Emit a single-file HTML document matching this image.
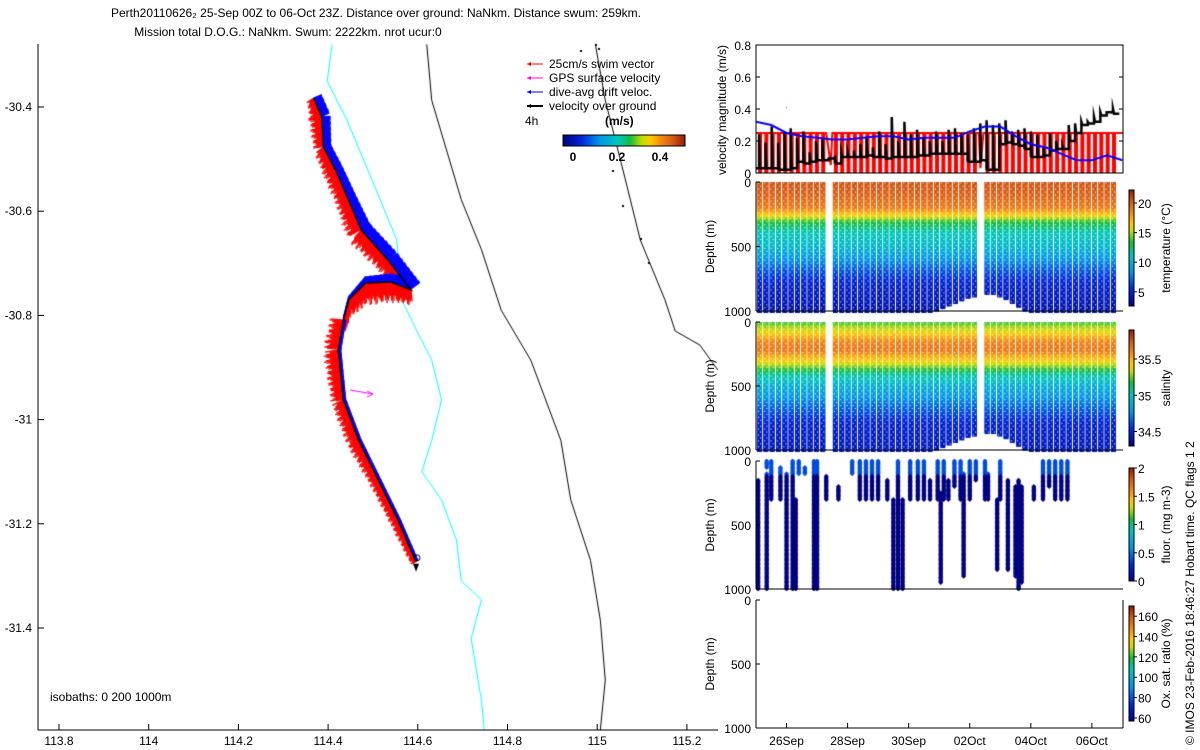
<!DOCTYPE html>
<html><head><meta charset="utf-8"><style>
body{margin:0;background:#fff;width:1200px;height:750px;overflow:hidden;position:relative;font-family:"Liberation Sans",sans-serif}
canvas,svg{position:absolute;left:0;top:0}
svg text{font-family:"Liberation Sans",sans-serif;font-size:12px;fill:#000}
</style></head><body>
<canvas id="cv" width="1200" height="750"></canvas>
<svg id="sv" width="1200" height="750"></svg>
<script>
// ---------- DATA ----------
const mapXTicks=[113.8,114,114.2,114.4,114.6,114.8,115,115.2];
const mapYTicks=[-30.4,-30.6,-30.8,-31,-31.2,-31.4];
const isoCyanLon=[114.409,114.398,114.442,114.498,114.553,114.564,114.598,114.631,114.653,114.631,114.609,114.653,114.686,114.697,114.742,114.719,114.742,114.748];
const isoCyanLat=[-30.28,-30.35,-30.425,-30.54,-30.655,-30.77,-30.83,-30.886,-30.962,-31.04,-31.10,-31.154,-31.23,-31.31,-31.346,-31.42,-31.54,-31.596];
const isoBlackLon=[114.62,114.631,114.697,114.742,114.786,114.852,114.919,114.941,114.985,115.007,115.018,115.007];
const isoBlackLat=[-30.28,-30.387,-30.578,-30.674,-30.79,-30.886,-31.04,-31.154,-31.27,-31.385,-31.5,-31.596];
const coastLon=[114.996,115.018,115.063,115.096,115.151,115.174,115.229,115.269];
const coastLat=[-30.28,-30.387,-30.54,-30.655,-30.77,-30.83,-30.857,-30.905];
const trackLon=[114.368,114.386,114.39,114.417,114.446,114.474,114.534,114.585,114.541,114.483,114.446,114.434,114.423,114.434,114.468,114.512,114.556,114.596];
const trackLat=[-30.383,-30.419,-30.477,-30.521,-30.579,-30.636,-30.694,-30.751,-30.736,-30.738,-30.770,-30.809,-30.866,-30.962,-31.039,-31.116,-31.193,-31.273];
const blueWidth=[9,9,8,8,9,11,12,12,9,7,4,3,3,3,3,3,3,3];
const redWidth=[9,15,12,15,15,18,15,15,20,22,18,15,17,14,14,11,10,7];

const dateLabels=["26Sep","28Sep","30Sep","02Oct","04Oct","06Oct"];
const dateDays=[1,3,5,7,9,11];
const blueDay=[0,0.5,1,1.5,2,2.5,3,3.5,4,4.5,5,5.5,6,6.5,7,7.5,8,8.5,9,9.5,10,10.5,11,11.5,12];
const blueVel=[0.32,0.30,0.25,0.23,0.22,0.21,0.21,0.22,0.23,0.23,0.21,0.22,0.22,0.22,0.26,0.29,0.29,0.23,0.18,0.16,0.12,0.08,0.08,0.11,0.08];
const vog=[0.03,0.03,0.03,0.02,0.02,0.03,0.07,0.06,0.07,0.08,0.08,0.09,0.06,0.1,0.1,0.1,0.1,0.11,0.1,0.1,0.09,0.1,0.1,0.1,0.1,0.11,0.11,0.12,0.12,0.12,0.12,0.12,0.12,0.07,0.07,0.08,0.02,0.02,0.18,0.19,0.18,0.17,0.15,0.1,0.1,0.11,0.14,0.15,0.15,0.2,0.25,0.3,0.31,0.32,0.36,0.38,0.37];
const spike=[0.24,0.19,0.29,0.19,0.26,0.28,0.22,0.26,0.13,0.2,0.21,0.09,0.11,0.13,0.13,0.14,0.18,0.22,0.16,0.26,0.18,0.35,0.2,0.32,0.24,0.27,0.22,0.2,0.26,0.2,0.27,0.28,0.25,0.24,0.28,0.31,0.33,0.3,0.31,0.33,0.26,0.27,0.28,0.26,0.24,0.16,0.25,0.2,0.17,0.3,0.31,0.32,0.32,0.35,0.38,0.38,0.4];
const swimSpeed=0.25;
const maxDepth=[1000,1000,1000,1000,1000,1000,1000,1000,1000,1000,1000,0,1000,1000,1000,1000,1000,1000,1000,1000,1000,1000,1000,1000,1000,1000,1000,1000,990,970,950,930,910,895,880,0,860,865,880,900,930,960,990,1000,1000,1000,1000,1000,1000,1000,1000,1000,1000,1000,1000,1000,1000];
const profDepth=[0,100,200,250,300,350,400,500,600,700,800,1000];
const profTemp=[20.5,20,19,17,14,12.5,11.5,10.5,8.5,6.5,5,4];
const salDepth=[0,60,150,220,300,400,500,650,800,1000];
const salVal=[35.2,35.35,35.6,35.65,35.45,35.1,34.9,34.7,34.5,34.45];
const fluorDay=[0.07,0.35,0.35,0.5,0.8,1.0,1.0,1.2,1.3,1.4,1.6,1.9,2.0,2.3,2.7,3.15,3.4,3.6,3.8,4.0,4.3,4.5,4.65,4.8,5.05,5.3,5.5,5.7,5.95,6.05,6.15,6.3,6.5,6.7,6.8,7.0,7.2,7.5,7.6,7.9,8.0,8.25,8.5,8.6,8.7,9.1,9.4,9.6,9.8,10.0,10.2];
const fluorTop=[150,0,100,0,50,100,300,0,300,0,50,0,0,120,200,0,0,0,0,0,150,300,0,300,0,0,0,150,0,250,0,150,0,0,100,0,0,0,100,300,0,150,200,150,200,200,0,0,0,0,0];
const fluorBot=[1000,50,1000,300,300,300,1000,1000,1000,100,100,1000,1000,300,300,100,300,300,300,300,300,1000,1000,1000,300,300,300,300,300,950,300,300,200,300,900,300,150,300,300,850,300,850,900,1000,950,300,300,200,300,300,300];

// ---------- SCALES ----------
const mX=lon=>59+(lon-113.8)*448.5, mY=lat=>107+(-30.4-lat)*521;
const RX0=756,RX1=1123,DAYS=12.02;
const tX=d=>RX0+d*(RX1-RX0)/DAYS;
const vY=v=>173-v*160;
const panels=[[182,311],[322,450],[461,589],[600,728]];
const dY=(p,d)=>panels[p][0]+d/1000*(panels[p][1]-panels[p][0]);
const cmapT=[0,0.15,0.3,0.45,0.55,0.65,0.72,0.82,0.9,1];
const cmapC=[[0,0,130],[0,40,220],[0,150,230],[0,200,190],[20,190,60],[200,220,0],[255,200,0],[240,130,20],[215,90,20],[150,30,10]];
function jet(t){t=Math.max(0,Math.min(1,t));for(let i=1;i<cmapT.length;i++){if(t<=cmapT[i]){const f=(t-cmapT[i-1])/(cmapT[i]-cmapT[i-1]);const a=cmapC[i-1],b=cmapC[i];return `rgb(${Math.round(a[0]+f*(b[0]-a[0]))},${Math.round(a[1]+f*(b[1]-a[1]))},${Math.round(a[2]+f*(b[2]-a[2]))})`;}}return 'rgb(150,30,10)';}
function interp(xs,ys,x){for(let i=1;i<xs.length;i++){if(x<=xs[i]){const f=(x-xs[i-1])/(xs[i]-xs[i-1]);return ys[i-1]+f*(ys[i]-ys[i-1]);}}return ys[ys.length-1];}

const cv=document.getElementById('cv'),ctx=cv.getContext('2d');
const sv=document.getElementById('sv'),NS='http://www.w3.org/2000/svg';
function el(tag,at,txt){const e=document.createElementNS(NS,tag);for(const k in at)e.setAttribute(k,at[k]);if(txt!=null)e.textContent=txt;sv.appendChild(e);return e;}
function poly(xs,ys,col,w){ctx.strokeStyle=col;ctx.lineWidth=w;ctx.beginPath();xs.forEach((x,i)=>i?ctx.lineTo(x,ys[i]):ctx.moveTo(x,ys[i]));ctx.stroke();}

// ---------- MAP ----------
poly(isoCyanLon.map(mX),isoCyanLat.map(mY),'#00ffff',1);
poly(isoBlackLon.map(mX),isoBlackLat.map(mY),'#000',1);
poly(coastLon.map(mX),coastLat.map(mY),'#000',1);
ctx.fillStyle='#000';[[595,44],[598,48],[580,50],[622,205],[640,238],[648,262],[612,170]].forEach(p=>ctx.fillRect(p[0],p[1],2,2));
{const px=trackLon.map(mX),py=trackLat.map(mY);let cnt=0;
for(let i=1;i<px.length;i++){const dx=px[i]-px[i-1],dy=py[i]-py[i-1],L=Math.hypot(dx,dy);const nx=-dy/L,ny=dx/L;
 const n=Math.ceil(L*1.5);for(let k=0;k<n;k++){const f=k/n;const x=px[i-1]+dx*f,y=py[i-1]+dy*f;cnt++;
  const jag=0.55+0.45*Math.abs(Math.sin(cnt*1.7)*Math.cos(cnt*0.37));
  const bw=(blueWidth[i-1]+(blueWidth[i]-blueWidth[i-1])*f)*(0.8+0.2*jag), rw=(redWidth[i-1]+(redWidth[i]-redWidth[i-1])*f)*jag;
  let rnx=nx,rny=ny; if(rnx>0||(rny<0&&i<=7)){rnx=-nx;rny=-ny;}
  if(i>=8&&i<=11){rnx=0;rny=1;}
  ctx.lineWidth=1.3;
  ctx.strokeStyle='#ff0000';ctx.beginPath();ctx.moveTo(x,y);ctx.lineTo(x+rnx*rw+1,y+rny*rw+1);ctx.stroke();
  ctx.strokeStyle='#0000ff';ctx.beginPath();ctx.moveTo(x,y);ctx.lineTo(x-rnx*bw,y-rny*bw);ctx.stroke();
 }}
poly(px,py,'#000',1.5);
const ex=px[px.length-1],ey=py[py.length-1];
ctx.lineWidth=1;ctx.beginPath();ctx.arc(ex+1,ey-4,3,0,7);ctx.stroke();
ctx.fillStyle='#000';ctx.beginPath();ctx.moveTo(ex-3,ey+2);ctx.lineTo(ex+3,ey+2);ctx.lineTo(ex,ey+10);ctx.fill();
ctx.strokeStyle='#ff00ff';ctx.lineWidth=1;ctx.beginPath();ctx.moveTo(350,390);ctx.lineTo(373,394);ctx.moveTo(367,391);ctx.lineTo(373,394);ctx.lineTo(367,397);ctx.stroke();}
el('line',{x1:38,y1:44,x2:38,y2:730,stroke:'#000',});
el('line',{x1:38,y1:730,x2:718,y2:730,stroke:'#000',});
mapXTicks.forEach(v=>{const x=mX(v);el('line',{x1:x,y1:730,x2:x,y2:724,stroke:'#000'});const t=el('text',{x:x,y:745,'text-anchor':'middle'},String(v));});
mapYTicks.forEach(v=>{const y=mY(v);el('line',{x1:38,y1:y,x2:44,y2:y,stroke:'#000'});const t=el('text',{x:32,y:y+4,'text-anchor':'end'},String(v));});
el('text',{x:50,y:701,'xml:space':'preserve'},'isobaths: 0   200  1000m');
el('text',{x:376,y:17,'text-anchor':'middle',},'Perth20110626\u2082 25-Sep 00Z to 06-Oct 23Z. Distance over ground: NaNkm. Distance swum: 259km.');
el('text',{x:288,y:36,'text-anchor':'middle',},'Mission total D.O.G.: NaNkm. Swum: 2222km. nrot ucur:0');
[['#ff0000','25cm/s swim vector',68],['#ff00ff','GPS surface velocity',82],['#0000ff','dive-avg drift veloc.',96],['#000','velocity over ground',110]].forEach(r=>{
 el('line',{x1:527,y1:r[2]-4,x2:543,y2:r[2]-4,stroke:r[0],'stroke-width':r[0]=='#000'?2:1});
 el('path',{d:`M527 ${r[2]-4} l4 -2 v4z`,fill:r[0]});
 const t=el('text',{x:549,y:r[2]},r[1]);});
el('text',{x:525,y:125,},'4h');
el('text',{x:605,y:125,'font-weight':'bold',},'(m/s)');
for(let i=0;i<122;i++){ctx.fillStyle=jet(i/121);ctx.fillRect(563+i,135,1,11);}
el('rect',{x:563,y:135,width:122,height:11,fill:'none',stroke:'#000',});
[[0,573],[0.2,617],[0.4,660]].forEach(p=>el('text',{x:p[1],y:161,'text-anchor':'middle','font-weight':'bold'},String(p[0])));

// ---------- VELOCITY PANEL ----------
ctx.save();ctx.beginPath();ctx.rect(RX0,45,RX1-RX0,128);ctx.clip();
maxDepth.forEach((m,i)=>{const x=tX(0.1+i*0.207);if(m>0){ctx.fillStyle='#ff0000';ctx.fillRect(x-1,vY(swimSpeed),4,vY(0)-vY(swimSpeed));}});
ctx.strokeStyle='#ff0000';ctx.lineWidth=2;
ctx.beginPath();ctx.moveTo(tX(0),vY(swimSpeed));ctx.lineTo(tX(2.3),vY(swimSpeed));ctx.lineTo(tX(2.45),vY(0.05));ctx.lineTo(tX(2.5),vY(swimSpeed));ctx.lineTo(tX(7.3),vY(swimSpeed));ctx.lineTo(tX(7.35),vY(0.03));ctx.lineTo(tX(7.45),vY(swimSpeed));ctx.lineTo(tX(12.1),vY(swimSpeed));ctx.stroke();
ctx.strokeStyle='#000';ctx.lineWidth=2.5;ctx.beginPath();
vog.forEach((v,i)=>{const x=tX(0.1+i*0.207),x2=tX(0.1+(i+1)*0.207);if(i==0)ctx.moveTo(tX(0),vY(v));ctx.lineTo(x,vY(v));ctx.lineTo(x,vY(spike[i]));ctx.lineTo(x+1,vY(v));ctx.lineTo(x2,vY(v));});
ctx.stroke();
poly(blueDay.map(tX),blueVel.map(vY),'#0000ff',2);
ctx.fillStyle='#ff00ff';ctx.fillRect(786,107,1,1);
ctx.restore();
el('rect',{x:RX0,y:45,width:RX1-RX0,height:128,fill:'none',stroke:'#000',});
[0,0.2,0.4,0.6,0.8].forEach(v=>{el('line',{x1:RX0,y1:vY(v),x2:RX0+4,y2:vY(v),stroke:'#000'});el('line',{x1:RX1,y1:vY(v),x2:RX1-4,y2:vY(v),stroke:'#000'});el('text',{x:751,y:vY(v)+5,'text-anchor':'end','font-size':'13'},String(v));});
el('text',{x:726,y:110,transform:'rotate(-90 726 110)','text-anchor':'middle',},'velocity magnitude (m/s)');

// ---------- DEPTH PANELS ----------
function scatter(p,valFn,lo,hi){ctx.save();ctx.beginPath();ctx.rect(RX0,panels[p][0],RX1-RX0,panels[p][1]-panels[p][0]+3);ctx.clip();
 maxDepth.forEach((m,i)=>{if(!m)return;const x=tX(0.1+i*0.207);
  for(let d=0;d<=m;d+=10){const y=dY(p,d);ctx.fillStyle=jet((valFn(d)-lo)/(hi-lo));ctx.fillRect(x-2,y-1,5,3);}
  ctx.fillStyle='#fff';for(let d=5;d<m;d+=23){ctx.fillRect(x+((d/23|0)%2?1:-1),dY(p,d),1,1);} });
 ctx.restore();}
scatter(0,d=>interp(profDepth,profTemp,d),2.6,22.2);
scatter(1,d=>interp(salDepth,salVal,d),34.3,35.9);
ctx.save();ctx.beginPath();ctx.rect(RX0,panels[2][0]-2,RX1-RX0,132);ctx.clip();
fluorDay.forEach((day,i)=>{const x=tX(day);for(let d=fluorTop[i];d<=fluorBot[i];d+=10){ctx.fillStyle=d<120?jet(0.2):jet(0.0);const y=dY(2,d);ctx.beginPath();ctx.moveTo(x,y-2.5);ctx.lineTo(x+2.5,y);ctx.lineTo(x,y+2.5);ctx.lineTo(x-2.5,y);ctx.fill();}});
ctx.restore();
const depthNames=['temperature-panel','salinity-panel','fluorescence-panel','oxygen-panel'];
panels.forEach((pp,p)=>{
 el('line',{x1:RX0,y1:pp[0],x2:RX0,y2:pp[1],stroke:'#000',});
 el('line',{x1:RX0,y1:pp[1],x2:RX1,y2:pp[1],stroke:'#000'});
 [0,500,1000].forEach(d=>{const y=dY(p,d);el('line',{x1:RX0,y1:y,x2:RX0+4,y2:y,stroke:'#000'});el('text',{x:751,y:y+5,'text-anchor':'end','font-size':'13'},String(d));});
 const cy=(pp[0]+pp[1])/2;el('text',{x:714,y:cy,transform:`rotate(-90 714 ${cy})`,'text-anchor':'middle','font-size':'13'},'Depth (m)');
});
dateDays.forEach(d=>{el('line',{x1:tX(d),y1:728,x2:tX(d),y2:723,stroke:'#000'});});
dateLabels.forEach((s,i)=>{const t=el('text',{x:tX(dateDays[i]),y:745,'text-anchor':'middle','font-size':'13'},s);});
el('line',{x1:RX1,y1:600,x2:RX1,y2:728,stroke:'#000'});
const cbars=[[190,306,2.6,22.2,[5,10,15,20],'temperature (°C)'],[330,446,34.3,35.9,[34.5,35,35.5],'salinity'],[468,581,0,2,[0,0.5,1,1.5,2],'fluor. (mg m-3)'],[606,721,57,170,[60,80,100,120,140,160],'Ox. sat. ratio (%)']];
cbars.forEach(c=>{const [y0,y1,lo,hi,ticks,lab]=c;for(let y=y0;y<y1;y++){ctx.fillStyle=jet(1-(y-y0)/(y1-y0));ctx.fillRect(1129,y,5,1);}
 el('rect',{x:1129,y:y0,width:5,height:y1-y0,fill:'none',stroke:'#000',});
 ticks.forEach(v=>{const y=y1-(v-lo)/(hi-lo)*(y1-y0);el('line',{x1:1134,y1:y,x2:1137,y2:y,stroke:'#000'});el('text',{x:1138,y:y+5,'font-size':'13'},String(v));});
 const cy=(y0+y1)/2;el('text',{x:1170,y:cy,transform:`rotate(-90 1170 ${cy})`,'text-anchor':'middle','font-size':'13'},lab);});
el('text',{x:1194,y:745,transform:'rotate(-90 1194 745)','font-size':'14.5',},'© IMOS 23-Feb-2016 18:46:27 Hobart time. QC flags 1  2');
</script>
</body></html>
